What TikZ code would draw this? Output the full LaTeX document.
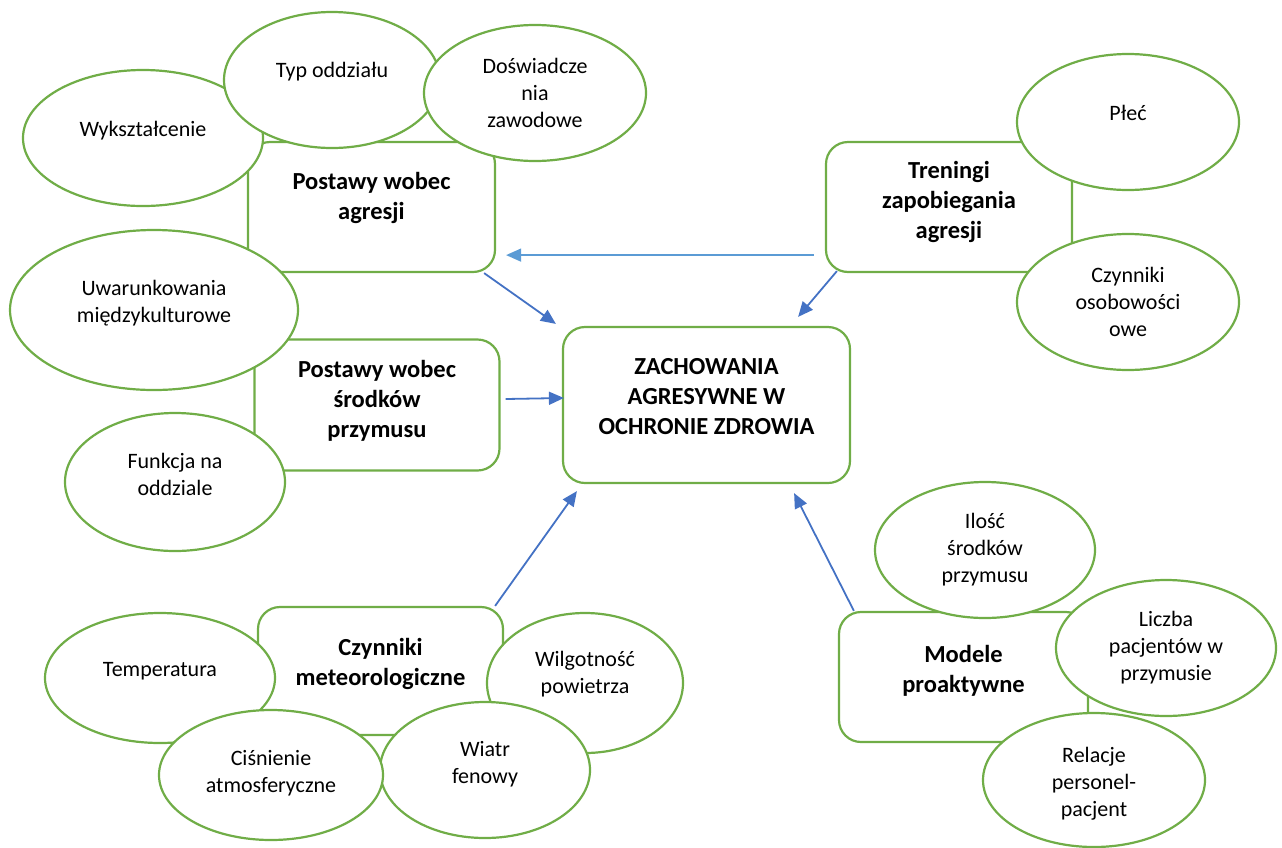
\documentclass[tikz,border=0pt]{standalone}
\usepackage{fontspec}
\setmainfont{Carlito}
\usetikzlibrary{shapes.geometric,arrows.meta}
\definecolor{lgreen}{HTML}{70AD47}
\definecolor{ablue}{HTML}{4472C4}
\definecolor{lblue}{HTML}{5B9BD5}
\begin{document}
\begin{tikzpicture}[x=1pt,y=-1pt,
  box/.style={draw=lgreen,line width=2.2pt,fill=white,rounded corners=22pt,inner sep=0pt},
  oval/.style={ellipse,draw=lgreen,line width=2.2pt,fill=white,inner sep=0pt},
  txt/.style={align=center,inner sep=0pt,font=\fontsize{22}{27}\selectfont},
  btxt/.style={txt,font=\bfseries\fontsize{24.5}{30}\selectfont},
  arr/.style={draw=ablue,line width=1.8pt,-{Triangle[length=15pt,width=13pt]}},
  arrl/.style={arr,draw=lblue,line width=1.4pt}]
\useasboundingbox (0,0) rectangle (1282,847);

\node[box,minimum width=247,minimum height=130,label={[btxt,yshift=9]center:Postawy wobec\\agresji}] (agresja) at (371.5,207) {};
\node[box,minimum width=246,minimum height=130,label={[btxt,yshift=5]center:Treningi\\zapobiegania\\agresji}] (trening) at (949,207) {};
\node[box,minimum width=245,minimum height=131,label={[btxt,yshift=4]center:Postawy wobec\\środków\\przymusu}] (srodki) at (377,405) {};
\node[box,minimum width=287,minimum height=156,label={[btxt,yshift=8]center:ZACHOWANIA\\AGRESYWNE W\\OCHRONIE ZDROWIA}] (zach) at (706.5,405) {};
\node[box,minimum width=245,minimum height=128,label={[btxt,yshift=7]center:Czynniki\\meteorologiczne}] (meteo) at (380.5,671) {};
\node[box,minimum width=249,minimum height=130,label={[btxt,yshift=6]center:Modele\\proaktywne}] (modele) at (963.5,677) {};

\node[oval,minimum width=240,minimum height=136,label={[txt,yshift=7]center:Wykształcenie}] (wyksztalcenie) at (143,138) {};
\node[oval,minimum width=216,minimum height=136,label={[txt,yshift=8]center:Typ oddziału}] (typ) at (332,80) {};
\node[oval,minimum width=222,minimum height=136,label={[txt]center:Doświadcze\\nia\\zawodowe}] (doswiadczenie) at (535,93) {};
\node[oval,minimum width=288,minimum height=160,label={[txt,yshift=7]center:Uwarunkowania\\międzykulturowe}] (uwarunkowania) at (154,310) {};
\node[oval,minimum width=220,minimum height=138,label={[txt,yshift=8]center:Funkcja na\\oddziale}] (funkcja) at (175,482) {};
\node[oval,minimum width=230,minimum height=130,label={[txt,yshift=7]center:Temperatura}] (temperatura) at (160,678) {};
\node[oval,minimum width=196,minimum height=140,label={[txt,yshift=9]center:Wilgotność\\powietrza}] (wilgotnosc) at (585,683) {};
\node[oval,minimum width=210,minimum height=136,label={[txt,yshift=6]center:Wiatr\\fenowy}] (wiatr) at (485,770) {};
\node[oval,minimum width=224,minimum height=130,label={[txt,yshift=2]center:Ciśnienie\\atmosferyczne}] (cisnienie) at (271,775) {};
\node[oval,minimum width=222,minimum height=136,label={[txt,yshift=9]center:Płeć}] (plec) at (1128,122) {};
\node[oval,minimum width=222,minimum height=136,label={[txt]center:Czynniki\\osobowości\\owe}] (osobowosc) at (1128,302) {};
\node[oval,minimum width=220,minimum height=136,label={[txt]center:Ilość\\środków\\przymusu}] (ilosc) at (985,550) {};
\node[oval,minimum width=220,minimum height=136,label={[txt]center:Liczba\\pacjentów w\\przymusie}] (liczba) at (1166,648) {};
\node[oval,minimum width=222,minimum height=134,label={[txt,yshift=-4]center:Relacje\\personel-\\pacjent}] (relacje) at (1094,780) {};

\draw[arrl] ([xshift=-11,yshift=18]trening.south west) -- ([xshift=10,yshift=18]agresja.south east);
\draw[arr] ([xshift=-12]agresja.south east) -- ([xshift=-6,yshift=2]zach.north west);
\draw[arr] ([xshift=12,yshift=2]trening.south west) -- ([xshift=-53,yshift=9]zach.north east);
\draw[arr] ([xshift=5,yshift=6]srodki.east) -- ([xshift=2,yshift=7]zach.west);
\draw[arr] ([xshift=-9]meteo.north east) -- ([xshift=15,yshift=-7]zach.south west);
\draw[arr] ([xshift=16]modele.north west) -- ([xshift=-57,yshift=-9]zach.south east);
\end{tikzpicture}
\end{document}
